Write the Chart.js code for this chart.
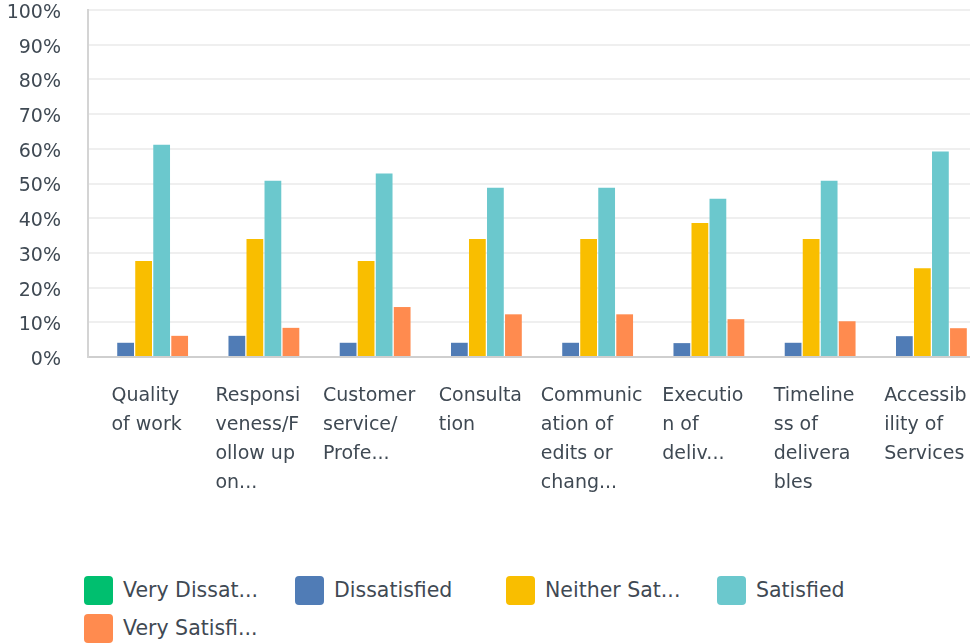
<!DOCTYPE html>
<html>
<head>
<meta charset="utf-8">
<script src="https://cdn.jsdelivr.net/npm/chart.js@4.4.1/dist/chart.umd.min.js"></script>
<style>
  html, body { margin: 0; padding: 0; background: #ffffff; overflow: hidden; width: 970px; height: 644px; }
  #wrap { position: absolute; left: 0; top: 0; width: 980px; height: 560px; }
  #legend { position: absolute; left: 84px; top: 576px; width: 844px; display: flex; flex-wrap: wrap;
            font-family: 'DejaVu Sans', sans-serif; font-size: 20.5px; color: #3f4953; }
  .item { width: 211px; height: 38px; display: flex; align-items: flex-start; }
  .box { width: 29px; height: 29px; border-radius: 4px; flex: none; }
  .txt { margin-left: 10px; line-height: 29px; white-space: nowrap; }
</style>
</head>
<body>
<div id="wrap"><canvas id="c" width="980" height="560"></canvas></div>
<div id="legend"></div>
<script>
const categories = [
  ["Quality", "of work"],
  ["Responsi", "veness/F", "ollow up", "on..."],
  ["Customer", "service/", "Profe..."],
  ["Consulta", "tion"],
  ["Communic", "ation of", "edits or", "chang..."],
  ["Executio", "n of", "deliv..."],
  ["Timeline", "ss of", "delivera", "bles"],
  ["Accessib", "ility of", "Services"]
];
const seriesNames = ["Very Dissatisfied", "Dissatisfied", "Neither Satisfied nor Dissatisfied", "Satisfied", "Very Satisfied"];
const legendLabels = ["Very Dissat...", "Dissatisfied", "Neither Sat...", "Satisfied", "Very Satisfi..."];
const seriesColors = ["#00bf6f", "#507cb6", "#f9be00", "#6bc8cd", "#ff8b4f"];
const veryDissatisfied = [0, 0, 0, 0, 0, 0, 0, 0];
const dissatisfied     = [4.1, 6.1, 4.1, 4.1, 4.1, 4.0, 4.1, 6.0];
const neither          = [27.7, 34.0, 27.7, 34.0, 34.0, 38.6, 34.0, 25.6];
const satisfied        = [61.2, 50.8, 52.9, 48.8, 48.8, 45.6, 50.8, 59.2];
const verySatisfied    = [6.1, 8.4, 14.4, 12.3, 12.3, 10.9, 10.3, 8.3];
const yTickLabels = ["0%", "10%", "20%", "30%", "40%", "50%", "60%", "70%", "80%", "90%", "100%"];

const seriesValues = [veryDissatisfied, dissatisfied, neither, satisfied, verySatisfied];
const FONT = "'DejaVu Sans', sans-serif";
const TEXT = "#3f4953";

const labelBlockPlugin = {
  id: 'labelBlock',
  beforeDraw(chart) {
    const scale = chart.scales.x;
    if (!scale || !scale.getLabelItems) return;
    const items = scale.getLabelItems(chart.chartArea);
    if (!items || items._shifted) return;
    const ctx = chart.ctx;
    ctx.save();
    items.forEach(item => {
      ctx.font = item.font.string;
      const lines = Array.isArray(item.label) ? item.label : [item.label];
      const w = Math.max(...lines.map(l => ctx.measureText(l).width));
      item.options.translation[0] += -w / 2 + 3;
    });
    ctx.restore();
    items._shifted = true;
  }
};

new Chart(document.getElementById('c'), {
  type: 'bar',
  data: {
    labels: categories,
    datasets: seriesNames.map((name, i) => ({
      label: name,
      data: seriesValues[i],
      backgroundColor: seriesColors[i],
      borderWidth: 0,
      categoryPercentage: 0.81,
      barPercentage: 0.93
    }))
  },
  options: {
    responsive: false,
    animation: false,
    layout: { padding: { top: 10, right: 2, bottom: 0, left: 0 } },
    plugins: { legend: { display: false }, tooltip: { enabled: false }, title: { display: false } },
    scales: {
      x: {
        grid: { display: false, drawTicks: false },
        border: { display: true, color: '#cfcfcf', width: 2 },
        ticks: {
          autoSkip: false, maxRotation: 0, minRotation: 0,
          align: 'start',
          padding: 25,
          color: TEXT,
          font: { family: FONT, size: 19, lineHeight: '29px' }
        },
        afterFit(scale) {
          scale.height = 560 - 357;
          scale.paddingLeft = 0; scale.paddingRight = 0;
          scale.paddingTop = 0; scale.paddingBottom = 0;
        }
      },
      y: {
        min: 0, max: 100,
        ticks: {
          stepSize: 10,
          padding: 27,
          labelOffset: 3,
          color: TEXT,
          font: { family: FONT, size: 19 },
          callback: (v, i) => yTickLabels[i]
        },
        grid: { color: '#efefef', lineWidth: 2, drawTicks: false },
        border: { display: true, color: '#d4d4d4', width: 2 },
        afterFit(scale) {
          scale.width = 88;
          scale.paddingTop = 0; scale.paddingBottom = 0;
          scale.paddingLeft = 0; scale.paddingRight = 0;
        }
      }
    }
  },
  plugins: [labelBlockPlugin]
});

const legend = document.getElementById('legend');
legendLabels.forEach((t, i) => {
  const it = document.createElement('div');
  it.className = 'item';
  const b = document.createElement('div');
  b.className = 'box';
  b.style.background = seriesColors[i];
  const s = document.createElement('span');
  s.className = 'txt';
  s.textContent = t;
  it.appendChild(b); it.appendChild(s);
  legend.appendChild(it);
});
</script>
</body>
</html>
